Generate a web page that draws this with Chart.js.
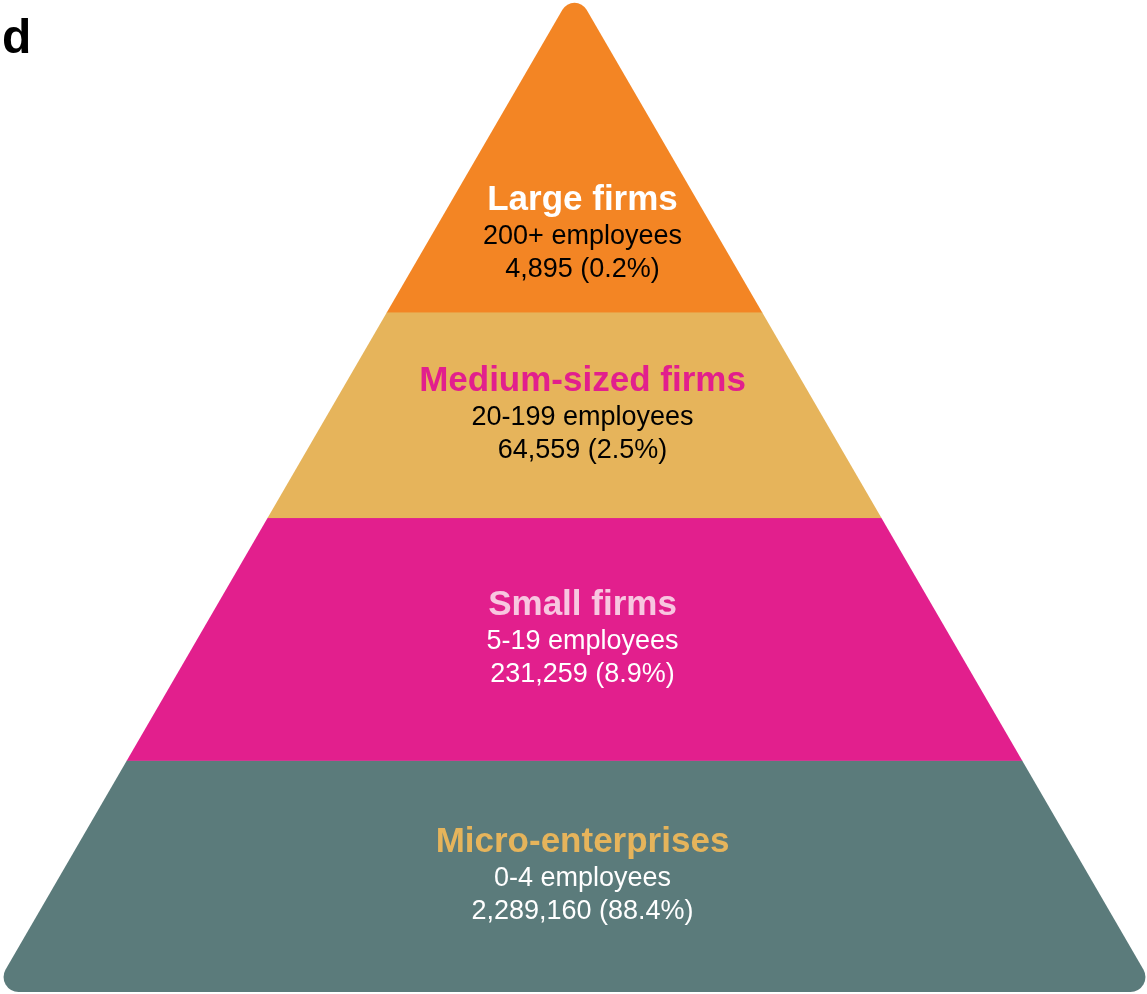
<!DOCTYPE html>
<html>
<head>
<meta charset="utf-8">
<script src="https://cdn.jsdelivr.net/npm/chart.js@4.4.1/dist/chart.umd.min.js"></script>
<style>
    html, body { margin: 0; padding: 0; background: #fff; }
    #wrap { position: relative; width: 1147px; height: 994px; }
</style>
</head>
<body>
<div id="wrap"><canvas id="pyramidChart"></canvas></div>
<script>
// bottom tier first
const tiers = ["Micro-enterprises", "Small firms", "Medium-sized firms", "Large firms"];
const employeeRanges = ["0-4 employees", "5-19 employees", "20-199 employees", "200+ employees"];
const firmCounts = [2289160, 231259, 64559, 4895];
const firmShares = [88.4, 8.9, 2.5, 0.2];
// height of the pyramid (0 = base, 100 = apex) where each tier starts / ends
const bandLevels = [0, 23.1, 47.3, 67.8, 100];

const bandColors = ["#5b7b7b", "#e21f8d", "#e6b45b", "#f38524"];
const titleColors = ["#e6b45b", "#f8c6e0", "#e21f8d", "#ffffff"];
const textColors = ["#ffffff", "#ffffff", "#000000", "#000000"];

const FONT = '"Liberation Sans", Arial, sans-serif';

const pyramidPlugin = {
    id: "pyramid",
    beforeDatasetsDraw(chart) {
        const ctx = chart.ctx;
        const xs = chart.scales.x;
        const ys = chart.scales.y;
        const base = 1.013; // half width of the base, x units

        const apex = [xs.getPixelForValue(0), ys.getPixelForValue(100)];
        const bl = [xs.getPixelForValue(-base), ys.getPixelForValue(0)];
        const br = [xs.getPixelForValue(base), ys.getPixelForValue(0)];

        ctx.save();
        ctx.beginPath();
        ctx.moveTo((bl[0] + br[0]) / 2, bl[1]);
        ctx.arcTo(br[0], br[1], apex[0], apex[1], 15);
        ctx.arcTo(apex[0], apex[1], bl[0], bl[1], 14);
        ctx.arcTo(bl[0], bl[1], br[0], br[1], 15);
        ctx.closePath();
        ctx.clip();

        tiers.forEach((t, i) => {
            const top = ys.getPixelForValue(bandLevels[i + 1]);
            const bottom = ys.getPixelForValue(bandLevels[i]);
            ctx.fillStyle = bandColors[i];
            ctx.fillRect(0, top, chart.width, bottom - top + 0.5);
        });
        ctx.restore();

        // labels
        ctx.save();
        ctx.textAlign = "center";
        ctx.textBaseline = "alphabetic";
        const cx = xs.getPixelForValue(0) + 8;
        tiers.forEach((t, i) => {
            const lo = bandLevels[i], hi = bandLevels[i + 1];
            const anchorLevel = hi >= 100 ? lo + (hi - lo) * 0.24 : (lo + hi) / 2;
            const cy = ys.getPixelForValue(anchorLevel);

            ctx.font = "bold 35px " + FONT;
            ctx.fillStyle = titleColors[i];
            ctx.fillText(t, cx, cy - 24);

            ctx.font = "27px " + FONT;
            ctx.fillStyle = textColors[i];
            ctx.fillText(employeeRanges[i], cx, cy + 10);
            ctx.fillText(
                firmCounts[i].toLocaleString("en-US") + " (" + firmShares[i].toFixed(1) + "%)",
                cx, cy + 43
            );
        });

        // panel letter
        ctx.textAlign = "left";
        ctx.font = "bold 48px " + FONT;
        ctx.fillStyle = "#000000";
        ctx.fillText("d", 2, 53);
        ctx.restore();
    },
};

new Chart(document.getElementById("pyramidChart"), {
    type: "scatter",
    data: { datasets: [] },
    options: {
        responsive: true,
        maintainAspectRatio: false,
        animation: false,
        layout: { padding: 0 },
        scales: {
            x: { type: "linear", min: -1, max: 0.9965, display: false },
            y: { type: "linear", min: -0.2, max: 98.9, display: false },
        },
        plugins: {
            legend: { display: false },
            tooltip: { enabled: false },
        },
    },
    plugins: [pyramidPlugin],
});
</script>
</body>
</html>
